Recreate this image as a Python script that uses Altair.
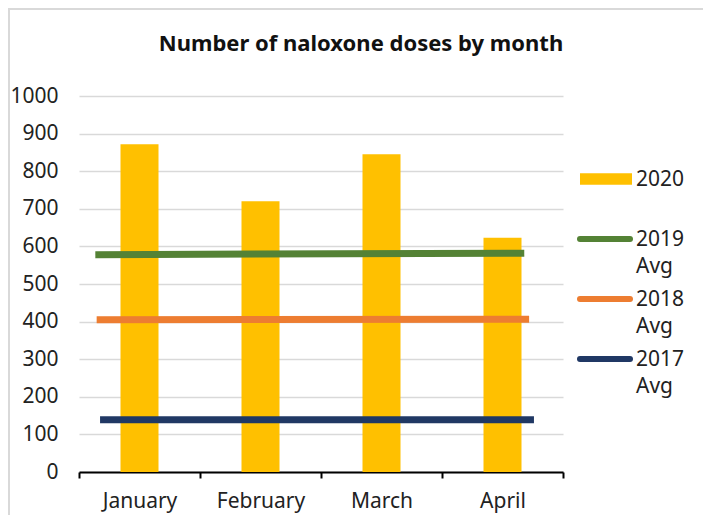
import altair as alt
import pandas as pd

months = ["January", "February", "March", "April"]
doses_2020 = [872, 720, 845, 623]

avg_series = ["2019 Avg", "2018 Avg", "2017 Avg"]
avg_start = [578, 405, 139]
avg_end = [582, 406, 139]
avg_x_start = [0.135, 0.146, 0.174]
avg_x_end = [3.68, 3.72, 3.76]

y_ticks = [0, 100, 200, 300, 400, 500, 600, 700, 800, 900, 1000]

legend_order = ["2020", "2019 Avg", "2018 Avg", "2017 Avg"]
colors = ["#FFC000", "#548235", "#ED7D31", "#203864"]

FONT = "Noto Sans"
FS = 21

bars_df = pd.DataFrame({
    "month": months,
    "pos": [i + 0.5 for i in range(len(months))],
    "value": doses_2020,
    "series": "2020",
})
lines_df = pd.DataFrame({
    "series": avg_series,
    "x0": avg_x_start,
    "x1": avg_x_end,
    "y0": avg_start,
    "y1": avg_end,
})
legend_df = pd.DataFrame({
    "series": legend_order,
    "rank": list(range(len(legend_order))),
    "kind": ["bar"] + ["line"] * len(avg_series),
})
frame_df = pd.DataFrame({"id": [0]})

label_map = "{" + ",".join(f"'{i + 0.5}':'{m}'" for i, m in enumerate(months)) + "}"

x_scale = alt.Scale(domain=[0, len(months)], nice=False, zero=False, padding=0)
y_scale = alt.Scale(domain=[0, 1000], nice=False)
color_scale = alt.Scale(domain=legend_order, range=colors)
leg_scale = alt.Scale(domain=[0, len(legend_order) - 1], range=[83, 263], nice=False, zero=False)

x_axis = alt.Axis(
    values=[i * 0.5 for i in range(2 * len(months) + 1)],
    labelExpr=f"{label_map}[toString(datum.value)] || ''",
    title=None, grid=False,
    domainColor="#000000", domainWidth=2,
    tickColor="#000000", tickWidth=2, tickSize=6,
    tickOpacity={"condition": {"test": "datum.value % 1 != 0", "value": 0}, "value": 1},
    labelFontSize=FS, labelFont=FONT, labelColor="#222222", labelPadding=12,
    labelAngle=0, labelOverlap=False,
)
y_axis = alt.Axis(
    values=y_ticks, tickCount=len(y_ticks), format="d", title=None,
    domain=False, ticks=False, labelOverlap=False,
    gridColor="#d9d9d9", gridWidth=1.5,
    labelFontSize=FS, labelFont=FONT, labelColor="#222222", labelPadding=21,
)

bars = alt.Chart(bars_df).mark_bar(width=38).encode(
    x=alt.X("pos:Q", scale=x_scale, axis=x_axis),
    y=alt.Y("value:Q", scale=y_scale, axis=y_axis),
    color=alt.Color("series:N", scale=color_scale, legend=None),
)

lines = alt.Chart(lines_df).mark_rule(strokeWidth=7).encode(
    x=alt.X("x0:Q", scale=x_scale, axis=x_axis),
    x2="x1:Q",
    y=alt.Y("y0:Q", scale=y_scale, axis=y_axis),
    y2="y1:Q",
    color=alt.Color("series:N", scale=color_scale, legend=None),
)

main = alt.layer(bars, lines)

leg_bar = alt.Chart(legend_df).transform_filter("datum.kind == 'bar'").mark_rule(
    strokeWidth=11.5, strokeCap="butt"
).encode(
    x=alt.value(501), x2=alt.value(553),
    y=alt.Y("rank:Q", scale=leg_scale, axis=None),
    color=alt.Color("series:N", scale=color_scale, legend=None),
)
leg_line = alt.Chart(legend_df).transform_filter("datum.kind == 'line'").mark_rule(
    strokeWidth=6, strokeCap="round"
).encode(
    x=alt.value(501), x2=alt.value(551),
    y=alt.Y("rank:Q", scale=leg_scale, axis=None),
    color=alt.Color("series:N", scale=color_scale, legend=None),
)
leg_text = alt.Chart(legend_df).mark_text(
    align="left", baseline="top", dy=-10.3, lineBreak=" ", lineHeight=27,
    font=FONT, fontSize=FS, color="#222222",
).encode(
    x=alt.value(557),
    y=alt.Y("rank:Q", scale=leg_scale, axis=None),
    text="series:N",
)
legend_layer = alt.layer(leg_bar, leg_line, leg_text)

frame_v = alt.Chart(frame_df).mark_rule(color="#d9d9d9", strokeWidth=2).encode(
    x=alt.value(-70), y=alt.value(-87), y2=alt.value(440),
)
frame_h = alt.Chart(frame_df).mark_rule(color="#d9d9d9", strokeWidth=2).encode(
    x=alt.value(-71), x2=alt.value(640), y=alt.value(-87),
)

chart = alt.layer(frame_v, frame_h, main, legend_layer).resolve_scale(y="independent").properties(
    width=484, height=376,
    autosize=alt.AutoSizeParams(type="none"),
    padding={"left": 71, "top": 88, "right": 140, "bottom": 43},
    title=alt.Title(
        "Number of naloxone doses by month",
        font=FONT, fontSize=22, fontWeight="bold", color="#111111",
        anchor="middle", baseline="alphabetic", offset=-65, dx=40,
    ),
).configure_view(stroke=None)

chart.save("out.html", embed_options={"renderer": "svg", "actions": False})
